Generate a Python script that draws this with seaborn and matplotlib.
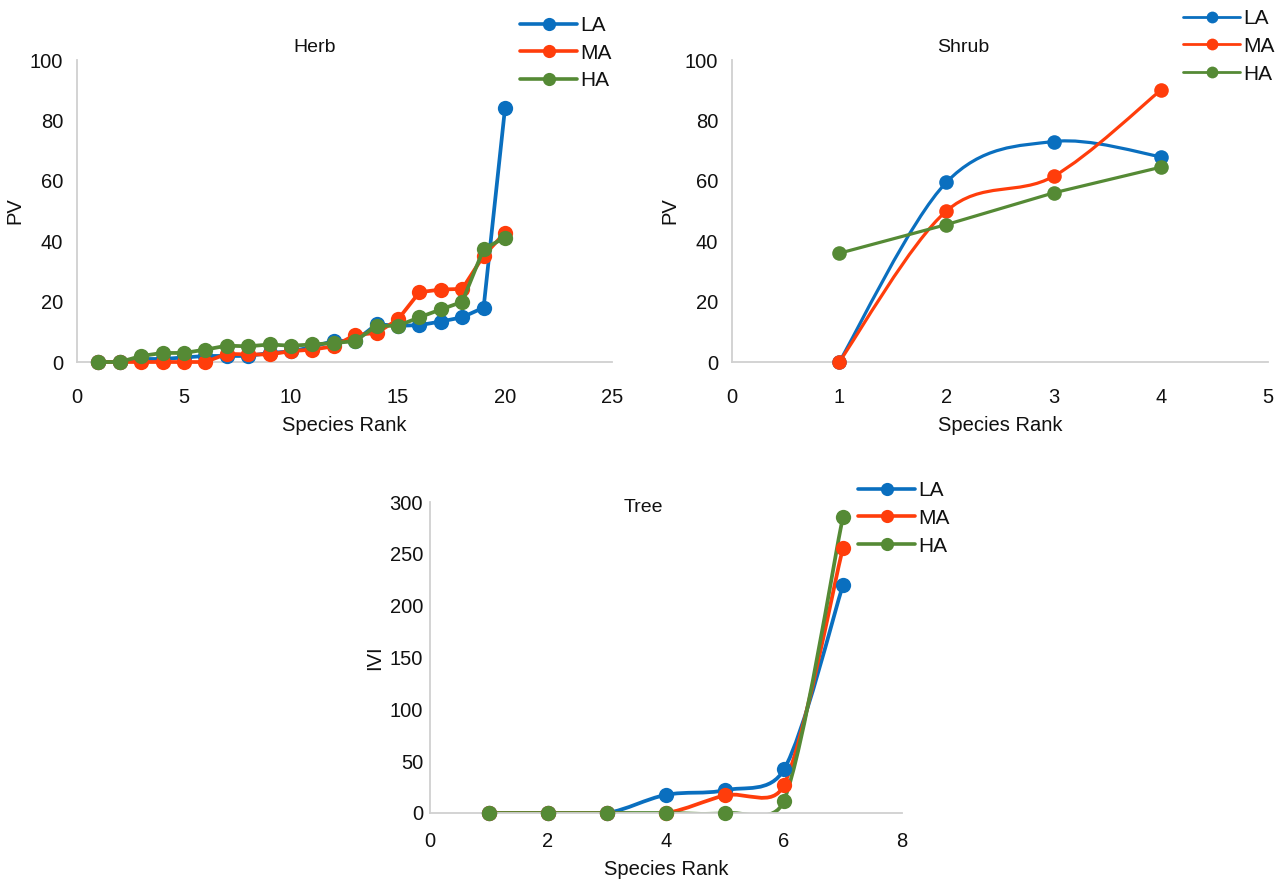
"""
Rank-abundance style curves (PV / IVI vs species rank) for herb, shrub and
tree layers at three altitudes (LA, MA, HA).
"""

import matplotlib
matplotlib.use("Agg")

import matplotlib.pyplot as plt
import numpy as np
import seaborn as sns
from matplotlib.lines import Line2D
from matplotlib.patches import PathPatch
from matplotlib.path import Path

SERIES = ["LA", "MA", "HA"]
COLORS = {"LA": "#0A6FBF", "MA": "#FF3D0B", "HA": "#558A35"}

# --- Herb (PV) ---
herb_rank = list(range(1, 21))
herb_la = [0, 0, 1, 1, 1.5, 2, 2, 2, 3, 3.5, 5, 7, 7, 12.5, 12, 12.2, 13.4, 14.8, 18, 84]
herb_ma = [0, 0, 0, 0, 0, 0, 2.7, 2.5, 2.5, 3.6, 4.1, 5.2, 9, 9.6, 14.1, 23.1, 24, 24.2, 35.2, 42.8]
herb_ha = [0, 0, 2, 3, 3, 4.1, 5.4, 5.2, 5.8, 5.4, 5.8, 6.3, 6.9, 12, 12, 14.8, 17.4, 19.9, 37.4, 41.2]

# --- Shrub (PV) ---
shrub_rank = [1, 2, 3, 4]
shrub_la = [0, 59.5, 73, 68]
shrub_ma = [0, 50, 61.5, 90]
shrub_ha = [36, 45.5, 56, 64.5]

# --- Tree (IVI) ---
tree_rank = [1, 2, 3, 4, 5, 6, 7]
tree_la = [0, 0, 0, 17.5, 22, 42, 220]
tree_ma = [0, 0, 0, 0, 17, 27, 256]
tree_ha = [0, 0, 0, 0, 0, 12, 286]

FONT = "Liberation Sans"
TEXT = "#111111"
AXIS_GREY = "#D0D0D0"


# ---------------------------------------------------------------------------

def smooth_path(ax, x, y, cap=0.45):
    """Excel-like smoothed line: cubic Bezier through every point.
    Control arms are 1/6 of the neighbour chord, capped (in screen space)
    to a fraction of the segment length so short segments don't overshoot."""
    data = np.column_stack([x, y]).astype(float)
    scr = ax.transData.transform(data)
    n = len(data)

    def arm(vec_data, vec_scr, seg_len):
        length = float(np.hypot(*vec_scr))
        limit = cap * seg_len
        return vec_data * (limit / length) if length > limit else vec_data

    verts, codes = [tuple(data[0])], [Path.MOVETO]
    for i in range(n - 1):
        a, b = max(i - 1, 0), min(i + 2, n - 1)
        seg = float(np.hypot(*(scr[i + 1] - scr[i])))
        c1 = data[i] + arm((data[i + 1] - data[a]) / 6, (scr[i + 1] - scr[a]) / 6, seg)
        c2 = data[i + 1] - arm((data[b] - data[i]) / 6, (scr[b] - scr[i]) / 6, seg)
        verts += [tuple(c1), tuple(c2), tuple(data[i + 1])]
        codes += [Path.CURVE4] * 3
    return Path(verts, codes)


def draw_series(ax, x, y, name, smooth, lw, ms):
    color = COLORS[name]
    if smooth:
        ax.add_patch(PathPatch(smooth_path(ax, x, y), fill=False, edgecolor=color,
                               linewidth=lw, capstyle="round", zorder=2))
        pts = sns.scatterplot(x=x, y=y, ax=ax, color=color, s=ms ** 2,
                              linewidth=0, zorder=3, legend=False)
        pts.collections[-1].set_clip_on(False)
    else:
        sns.lineplot(x=x, y=y, ax=ax, color=color, linewidth=lw, marker="o",
                     markersize=ms, markeredgewidth=0, legend=False, zorder=3)
        ax.lines[-1].set_clip_on(False)


def style_axes(ax, xlim, xticks, ylim, yticks, ylabel, tick_len, xpad):
    ax.set_xlim(*xlim)
    ax.set_ylim(*ylim)
    ax.set_xticks(xticks)
    ax.set_yticks(yticks)
    ax.set_xlabel("Species Rank", fontsize=14.5, family=FONT, color=TEXT, labelpad=6)
    ax.set_ylabel(ylabel, fontsize=14.5, family=FONT, color=TEXT, labelpad=4)
    for side in ("top", "right"):
        ax.spines[side].set_visible(False)
    for side in ("left", "bottom"):
        ax.spines[side].set_color(AXIS_GREY)
        ax.spines[side].set_linewidth(1.3)
    ax.tick_params(axis="x", length=tick_len, color=AXIS_GREY, pad=xpad,
                   labelsize=14.5, labelcolor=TEXT)
    ax.tick_params(axis="y", length=tick_len, color=AXIS_GREY, pad=5,
                   labelsize=14.5, labelcolor=TEXT)
    for lab in ax.get_xticklabels() + ax.get_yticklabels():
        lab.set_family(FONT)


def add_legend(ax, x_px, y_px, lw, ms):
    handles = [Line2D([], [], color=COLORS[s], linewidth=lw, marker="o",
                      markersize=ms, markeredgewidth=0) for s in SERIES]
    leg = ax.legend(handles, SERIES, loc="upper left", frameon=False,
                    bbox_to_anchor=(x_px / 1282, 1 - y_px / 889),
                    bbox_transform=ax.figure.transFigure,
                    borderpad=0, borderaxespad=0, handlelength=2.75,
                    handletextpad=0.15, labelspacing=0.42,
                    prop={"family": FONT, "size": 15})
    for t in leg.get_texts():
        t.set_color(TEXT)
    return leg


# ---------------------------------------------------------------------------

sns.set_theme(style="white")
plt.rcParams["font.family"] = [FONT, "DejaVu Sans"]

fig = plt.figure(figsize=(12.82, 8.89), dpi=100)

# --- Herb ---
ax_h = fig.add_axes([77 / 1282, 1 - 362 / 889, 535 / 1282, 302 / 889])
style_axes(ax_h, (0, 25), range(0, 26, 5), (0, 100), range(0, 101, 20), "PV",
           tick_len=5, xpad=14)
for name, vals in zip(SERIES, [herb_la, herb_ma, herb_ha]):
    draw_series(ax_h, herb_rank, vals, name, smooth=False, lw=2.7, ms=11)
ax_h.set_xlim(0, 25)
ax_h.set_ylim(0, 100)
add_legend(ax_h, 520, 16, lw=2.6, ms=9.5)
fig.text(315 / 1282, 1 - 48 / 889, "Herb", ha="center", va="center",
         fontsize=14, family=FONT, color=TEXT)

# --- Shrub ---
ax_s = fig.add_axes([732 / 1282, 1 - 362 / 889, 536 / 1282, 302 / 889])
style_axes(ax_s, (0, 5), range(0, 6), (0, 100), range(0, 101, 20), "PV",
           tick_len=5, xpad=14)
for name, vals, smooth in zip(SERIES, [shrub_la, shrub_ma, shrub_ha], [True, True, False]):
    draw_series(ax_s, shrub_rank, vals, name, smooth=smooth, lw=2.3, ms=10.5)
ax_s.set_xlim(0, 5)
ax_s.set_ylim(0, 100)
add_legend(ax_s, 1183, 9, lw=2.0, ms=8.5)
fig.text(963 / 1282, 1 - 48 / 889, "Shrub", ha="center", va="center",
         fontsize=14, family=FONT, color=TEXT)

# --- Tree ---
ax_t = fig.add_axes([430 / 1282, 1 - 813 / 889, 472 / 1282, 311 / 889])
style_axes(ax_t, (0, 8), range(0, 9, 2), (0, 300), range(0, 301, 50), "IVI",
           tick_len=0, xpad=14)
for name, vals in zip(SERIES, [tree_la, tree_ma, tree_ha]):
    draw_series(ax_t, tree_rank, vals, name, smooth=True, lw=2.7, ms=11)
ax_t.set_xlim(0, 8)
ax_t.set_ylim(0, 300)
add_legend(ax_t, 858, 481, lw=2.6, ms=9.5)
fig.text(643 / 1282, 1 - 508 / 889, "Tree", ha="center", va="center",
         fontsize=14, family=FONT, color=TEXT)

fig.savefig("out.png", dpi=100)
plt.close(fig)
